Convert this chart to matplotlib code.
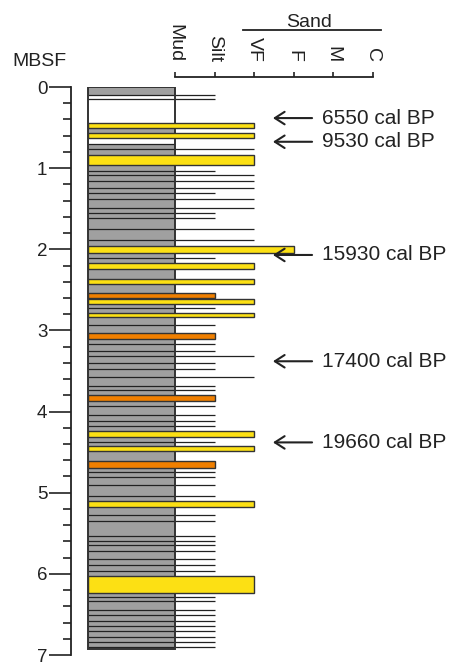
"""
Core log: grain size column with depth (MBSF) and radiocarbon ages
"""

from matplotlib import pyplot as plt

plt.rcParams['font.family'] = ['Liberation Sans', 'DejaVu Sans']

# grain size classes (x positions on the top scale)
grain_labels = ['Mud', 'Silt', 'VF', 'F', 'M', 'C']
grain_x = [0, 1, 2, 3, 4, 5]
MUD, SILT, VF, F = 0, 1, 2, 3

# gray mud intervals in the column (top, bottom) in m
mud_top = [0.0, 0.505, 0.70]
mud_bot = [0.095, 0.565, 6.93]
core_base = 6.93

# sand / silt beds (top, bottom, grain size reached, colour)
bed_top = [0.44, 0.565, 0.835, 1.955, 2.175, 2.37, 2.61, 2.785, 4.245, 4.43, 5.10, 6.03,
           2.54, 3.03, 3.79, 4.61]
bed_bot = [0.505, 0.63, 0.965, 2.05, 2.24, 2.43, 2.67, 2.84, 4.31, 4.49, 5.18, 6.24,
           2.60, 3.10, 3.87, 4.70]
bed_grain = [VF, VF, VF, F, VF, VF, VF, VF, VF, VF, VF, VF,
             SILT, SILT, SILT, SILT]
bed_kind = ['sand'] * 12 + ['silt'] * 4

# thin laminae (depth, grain size reached)
lam_depth = [0.095, 0.15, 0.70, 0.77, 1.03, 1.09, 1.155, 1.24, 1.31, 1.385, 1.49, 1.55,
             1.62, 1.75, 1.89, 2.11, 2.72, 2.93, 3.17, 3.255, 3.32, 3.40, 3.475, 3.57,
             3.68, 3.73, 3.93, 4.04, 4.12, 4.18, 4.38, 4.75, 4.81, 4.90, 5.04, 5.275,
             5.35, 5.53, 5.59, 5.65, 5.72, 5.82, 5.89, 5.96, 6.28, 6.34, 6.45, 6.51,
             6.575, 6.645, 6.71, 6.78, 6.84, 6.90]
lam_grain = [SILT, SILT, MUD, VF, SILT, VF, VF, VF, SILT, VF, VF, SILT,
             SILT, VF, VF, SILT, SILT, SILT, SILT, SILT, VF, SILT, SILT, VF] + [SILT] * 30

# radiocarbon ages
age_depth = [0.383, 0.675, 2.07, 3.38, 4.38]
age_label = ['6550 cal BP', '9530 cal BP', '15930 cal BP', '17400 cal BP', '19660 cal BP']

col_left = -2.2
colors = {'sand': '#fce014', 'silt': '#f07f00'}
ink = '#222222'

fig = plt.figure(figsize=(4.49, 6.67), dpi=100)
W, H = 449, 667
ax = fig.add_axes([71 / W, 12 / H, (W - 71) / W, (655 - 87) / H])
ax.set_xlim((71 - 175) / 39.5, (449 - 175) / 39.5)
ax.set_ylim(7, 0)

# column: gray mud intervals
for t, b in zip(mud_top, mud_bot):
    ax.barh((t + b) / 2, -col_left, left=col_left, height=b - t,
            color='#a0a0a0', edgecolor='none', zorder=1)

# laminae
ax.hlines(lam_depth, col_left, lam_grain, colors=ink, lw=0.9, zorder=2)

# column outline
ax.barh(core_base / 2, -col_left, left=col_left, height=core_base,
        facecolor='none', edgecolor='#333333', lw=1.4, zorder=2.5)

# beds
for t, b, g, k in zip(bed_top, bed_bot, bed_grain, bed_kind):
    ax.barh((t + b) / 2, g - col_left, left=col_left, height=b - t,
            color=colors[k], edgecolor='#333333', lw=1.0, zorder=3)

# ages with arrows
for d, lab in zip(age_depth, age_label):
    ax.annotate('', xy=(2.48, d), xytext=(3.47, d),
                arrowprops=dict(arrowstyle='->,head_length=0.7,head_width=0.45',
                                lw=1.5, color=ink, shrinkA=0, shrinkB=0),
                annotation_clip=False)
    ax.text(3.72, d, lab, fontsize=15, color=ink, va='center', ha='left', clip_on=False)

# depth axis
for s in ['right', 'bottom']:
    ax.spines[s].set_visible(False)
ax.spines['left'].set_color(ink)
ax.spines['left'].set_linewidth(1.3)
ax.set_yticks(range(0, 8))
ax.set_yticks([i * 0.2 for i in range(36) if i % 5 != 0], minor=True)
ax.tick_params(axis='y', which='major', direction='out', length=16, width=1.2,
               pad=1, labelsize=13.5, colors=ink)
ax.tick_params(axis='y', which='minor', direction='out', length=6, width=1.2, colors=ink)

# grain size axis on top
ax.xaxis.tick_top()
ax.spines['top'].set_position(('outward', 7.2))
ax.spines['top'].set_bounds(0, 5)
ax.spines['top'].set_color(ink)
ax.spines['top'].set_linewidth(1.3)
ax.set_xticks(grain_x)
ax.set_xticklabels(grain_labels, rotation=-90)
ax.tick_params(axis='x', direction='out', length=3.6, width=1.2, pad=7,
               labelsize=14, colors=ink)

# Sand bracket
ax.plot([1.72, 5.22], [-0.704, -0.704], color=ink, lw=1.3, clip_on=False)
ax.text(3.39, -0.74, 'Sand', fontsize=14, color=ink, ha='center', va='baseline')

fig.text(39 / W, 1 - 62 / H, 'MBSF', fontsize=14, color=ink, ha='center', va='center')

plt.savefig('out.png', dpi=100)
